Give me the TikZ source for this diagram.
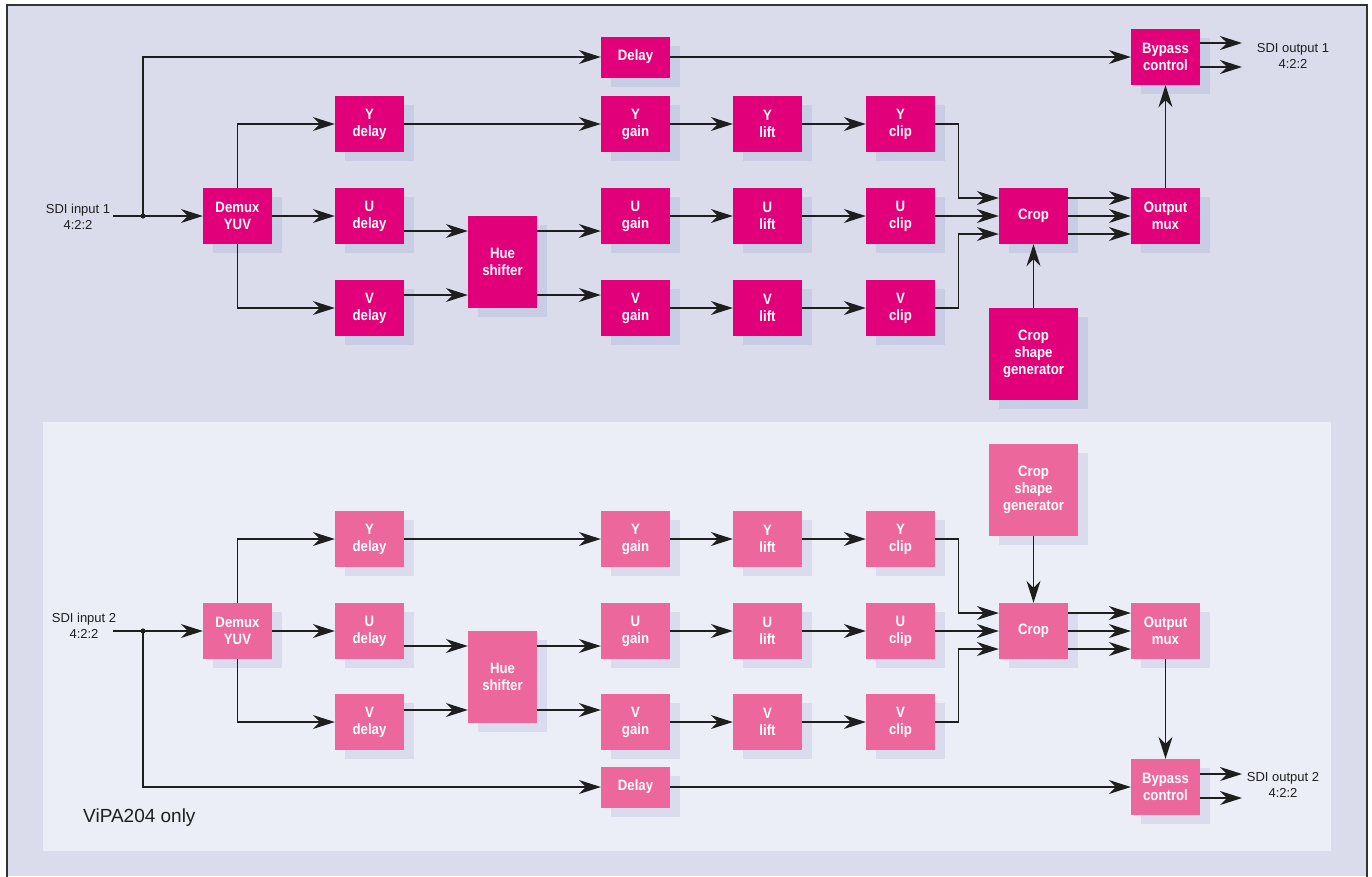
\documentclass[tikz,border=0pt]{standalone}
\usepackage{fontspec}
\setmainfont{Liberation Sans}
\newfontfamily\boxfont{Liberation Sans}[FakeStretch=0.88]
\usetikzlibrary{arrows.meta,shadows}

\definecolor{outerbg}{HTML}{DADCEC}
\definecolor{innerbg}{HTML}{EBEDF7}
\definecolor{magA}{HTML}{E2007A}
\definecolor{magB}{HTML}{EC679C}
\definecolor{shA}{HTML}{C8CDE3}
\definecolor{shB}{HTML}{DADCEE}
\definecolor{wirecol}{HTML}{1E1E1E}
\definecolor{framecol}{HTML}{333333}

\begin{document}
\begin{tikzpicture}[x=1pt,y=-1pt,
  blk/.style={rectangle, inner sep=0pt, minimum width=69pt, minimum height=56pt,
    align=center, text=white, font=\boxfont\bfseries\fontsize{15}{17}\selectfont},
  blkA/.style={blk, fill=magA, drop shadow={shadow xshift=10pt, shadow yshift=-9pt, fill=shA, opacity=1}},
  blkB/.style={blk, fill=magB, drop shadow={shadow xshift=10pt, shadow yshift=-9pt, fill=shB, opacity=1}},
  lowbox/.style={minimum height=41pt},
  tallbox/.style={minimum height=92pt},
  genbox/.style={minimum width=89pt, minimum height=92pt},
  wire/.style={draw=wirecol, line width=1.3pt},
  arr/.style={wire, -{Stealth[length=22pt,width=14pt,inset=7pt]}},
  lbl/.style={font=\fontsize{13}{16}\selectfont, align=center, text=black!88, inner sep=0pt},
]
\useasboundingbox (0,0) rectangle (1372,876);

% panels
\fill[outerbg] (7,5) rectangle (1367,876);
\draw[framecol, line width=1.5pt] (7,880) -- (7,5) -- (1367,5) -- (1367,880);
\fill[innerbg] (43,422) rectangle (1331,851);

% ---------- channel 1 ----------
\node[blkA] (demA) at (237.5,216) {Demux\\YUV};
\node[blkA] (ydA) at (369.5,124) {Y\\delay};
\node[blkA] (udA) at (369.5,216) {U\\delay};
\node[blkA] (vdA) at (369.5,308) {V\\delay};
\node[blkA,tallbox] (hueA) at (502.5,262) {Hue\\shifter};
\node[blkA,lowbox] (dlA) at (635.5,57) {Delay};
\node[blkA] (ygA) at (635.5,124) {Y\\gain};
\node[blkA] (ugA) at (635.5,216) {U\\gain};
\node[blkA] (vgA) at (635.5,308) {V\\gain};
\node[blkA] (ylA) at (767.5,124) {Y\\lift};
\node[blkA] (ulA) at (767.5,216) {U\\lift};
\node[blkA] (vlA) at (767.5,308) {V\\lift};
\node[blkA] (ycA) at (900.5,124) {Y\\clip};
\node[blkA] (ucA) at (900.5,216) {U\\clip};
\node[blkA] (vcA) at (900.5,308) {V\\clip};
\node[blkA] (cropA) at (1033.5,216) {Crop};
\node[blkA,genbox] (csgA) at (1033.5,354) {Crop\\shape\\generator};
\node[blkA] (muxA) at (1165.5,216) {Output\\mux};
\node[blkA] (bypA) at (1165.5,57) {Bypass\\control};

\node[lbl] (sdiInA) at (78,217) {SDI input 1\\4:2:2};
\node[lbl] (sdiOutA) at (1293,56) {SDI output 1\\4:2:2};

\coordinate (inA) at (113,216);
\coordinate (jA) at (143,216);
\draw[arr] (inA) -- (demA.west);
\fill[wirecol] (jA) circle[radius=2.6pt];
\draw[arr] (jA) |- (dlA.west);
\draw[arr] (demA.north) |- (ydA.west);
\draw[arr] (demA.east) -- (udA.west);
\draw[arr] (demA.south) |- (vdA.west);
\draw[arr] (ydA.east) -- (ygA.west);
\coordinate (uA) at ([yshift=-15pt]udA.east);
\coordinate (vA) at ([yshift=13pt]vdA.east);
\draw[arr] (uA) -- (uA -| hueA.west);
\draw[arr] (vA) -- (vA -| hueA.west);
\draw[arr] (uA -| hueA.east) -- (uA -| ugA.west);
\draw[arr] (vA -| hueA.east) -- (vA -| vgA.west);
\draw[arr] (ygA.east) -- (ylA.west);
\draw[arr] (ugA.east) -- (ulA.west);
\draw[arr] (vgA.east) -- (vlA.west);
\draw[arr] (ylA.east) -- (ycA.west);
\draw[arr] (ulA.east) -- (ucA.west);
\draw[arr] (vlA.east) -- (vcA.west);
\coordinate (cyA) at ([yshift=18pt]cropA.west);
\coordinate (cvA) at ([yshift=-18pt]cropA.west);
\draw[arr] (ycA.east) -| ([xshift=-40pt]cyA) -- (cyA);
\draw[arr] (ucA.east) -- (cropA.west);
\draw[arr] (vcA.east) -| ([xshift=-40pt]cvA) -- (cvA);
\draw[arr] (cyA -| cropA.east) -- (cyA -| muxA.west);
\draw[arr] (cropA.east) -- (muxA.west);
\draw[arr] (cvA -| cropA.east) -- (cvA -| muxA.west);
\draw[arr] (csgA.north) -- (cropA.south);
\draw[arr] (muxA.north) -- (bypA.south);
\draw[arr] (dlA.east) -- (bypA.west);
\coordinate (o1A) at ([yshift=14pt]bypA.east);
\coordinate (o2A) at ([yshift=-10pt]bypA.east);
\coordinate (endA) at (1242,57);
\draw[arr] (o1A) -- (o1A -| endA);
\draw[arr] (o2A) -- (o2A -| endA);

% ---------- channel 2 ----------
\node[blkB] (demB) at (237.5,631) {Demux\\YUV};
\node[blkB] (ydB) at (369.5,539) {Y\\delay};
\node[blkB] (udB) at (369.5,631) {U\\delay};
\node[blkB] (vdB) at (369.5,722) {V\\delay};
\node[blkB,tallbox] (hueB) at (502.5,677) {Hue\\shifter};
\node[blkB,lowbox] (dlB) at (635.5,787) {Delay};
\node[blkB] (ygB) at (635.5,539) {Y\\gain};
\node[blkB] (ugB) at (635.5,631) {U\\gain};
\node[blkB] (vgB) at (635.5,722) {V\\gain};
\node[blkB] (ylB) at (767.5,539) {Y\\lift};
\node[blkB] (ulB) at (767.5,631) {U\\lift};
\node[blkB] (vlB) at (767.5,722) {V\\lift};
\node[blkB] (ycB) at (900.5,539) {Y\\clip};
\node[blkB] (ucB) at (900.5,631) {U\\clip};
\node[blkB] (vcB) at (900.5,722) {V\\clip};
\node[blkB] (cropB) at (1033.5,631) {Crop};
\node[blkB,genbox] (csgB) at (1033.5,490) {Crop\\shape\\generator};
\node[blkB] (muxB) at (1165.5,631) {Output\\mux};
\node[blkB] (bypB) at (1165.5,787) {Bypass\\control};

\node[lbl] (sdiInB) at (84,626) {SDI input 2\\4:2:2};
\node[lbl] (sdiOutB) at (1283,785) {SDI output 2\\4:2:2};
\node[anchor=west, inner sep=0pt, text=black!88, font=\fontsize{19}{22}\selectfont] (vipa) at (83,818) {ViPA204 only};

\coordinate (inB) at (113,631);
\coordinate (jB) at (143,631);
\draw[arr] (inB) -- (demB.west);
\fill[wirecol] (jB) circle[radius=2.6pt];
\draw[arr] (jB) |- (dlB.west);
\draw[arr] (demB.north) |- (ydB.west);
\draw[arr] (demB.east) -- (udB.west);
\draw[arr] (demB.south) |- (vdB.west);
\draw[arr] (ydB.east) -- (ygB.west);
\coordinate (uB) at ([yshift=-15pt]udB.east);
\coordinate (vB) at ([yshift=12pt]vdB.east);
\draw[arr] (uB) -- (uB -| hueB.west);
\draw[arr] (vB) -- (vB -| hueB.west);
\draw[arr] (uB -| hueB.east) -- (uB -| ugB.west);
\draw[arr] (vB -| hueB.east) -- (vB -| vgB.west);
\draw[arr] (ygB.east) -- (ylB.west);
\draw[arr] (ugB.east) -- (ulB.west);
\draw[arr] (vgB.east) -- (vlB.west);
\draw[arr] (ylB.east) -- (ycB.west);
\draw[arr] (ulB.east) -- (ucB.west);
\draw[arr] (vlB.east) -- (vcB.west);
\coordinate (cyB) at ([yshift=18pt]cropB.west);
\coordinate (cvB) at ([yshift=-18pt]cropB.west);
\draw[arr] (ycB.east) -| ([xshift=-40pt]cyB) -- (cyB);
\draw[arr] (ucB.east) -- (cropB.west);
\draw[arr] (vcB.east) -| ([xshift=-40pt]cvB) -- (cvB);
\draw[arr] (cyB -| cropB.east) -- (cyB -| muxB.west);
\draw[arr] (cropB.east) -- (muxB.west);
\draw[arr] (cvB -| cropB.east) -- (cvB -| muxB.west);
\draw[arr] (csgB.south) -- (cropB.north);
\draw[arr] (muxB.south) -- (bypB.north);
\draw[arr] (dlB.east) -- (bypB.west);
\coordinate (o1B) at ([yshift=13pt]bypB.east);
\coordinate (o2B) at ([yshift=-11pt]bypB.east);
\coordinate (endB) at (1242,787);
\draw[arr] (o1B) -- (o1B -| endB);
\draw[arr] (o2B) -- (o2B -| endB);
\end{tikzpicture}
\end{document}
